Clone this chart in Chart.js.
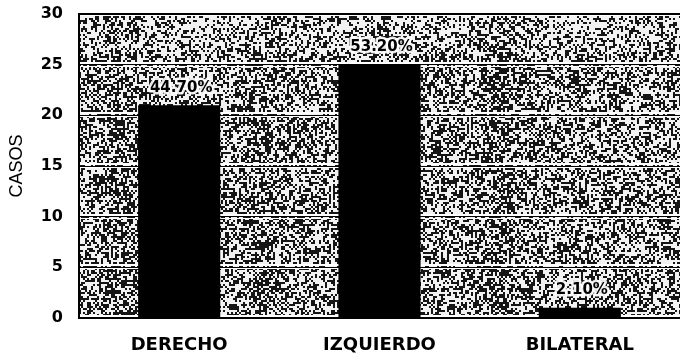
<!DOCTYPE html>
<html>
<head>
<meta charset="utf-8">
<script src="https://cdn.jsdelivr.net/npm/chart.js@4"></script>
<style>
  html, body { margin: 0; padding: 0; background: #fff; }
  #wrap { width: 680px; height: 359px; }
</style>
</head>
<body>
<div id="wrap"><canvas id="grafico"></canvas></div>
<script>
const categorias = ['DERECHO', 'IZQUIERDO', 'BILATERAL'];
const casos = [21, 25, 1];
const porcentajes = ['44.70%', '53.20%', '2.10%'];

const fuente = '"DejaVu Sans", Arial, sans-serif';

// textura gris tipo fotocopia para el fondo del area de trazado
function pintarTextura(ctx, a) {
    const w = Math.ceil(a.right - a.left), h = Math.ceil(a.bottom - a.top);
    const c = document.createElement('canvas');
    c.width = w; c.height = h;
    const g = c.getContext('2d');
    g.fillStyle = '#f2f2f2';
    g.fillRect(0, 0, w, h);
    g.fillStyle = '#151515';
    let s = 98765;
    for (let y = 0; y < h; y += 2) {
        for (let x = 0; x < w; x += 2) {
            s = (s * 1103515245 + 12345) & 0x7fffffff;
            // bandas verticales algo mas oscuras, como en la fotocopia
            const banda = 0.14 * Math.exp(-Math.pow((x - 40) / 18, 2))
                + 0.12 * Math.exp(-Math.pow((x - 180) / 20, 2))
                + 0.14 * Math.exp(-Math.pow((x - 420) / 22, 2));
            const d = 0.44 + banda - (y < 40 ? 0.08 : 0);
            if ((s >> 8) % 1000 < d * 1000) g.fillRect(x, y, 2, 2);
        }
    }
    ctx.drawImage(c, a.left, a.top);
}

const fondo = {
    id: 'fondo',
    beforeDraw(chart) {
        const { ctx, chartArea: a } = chart;
        const y = chart.scales.y;
        ctx.save();
        pintarTextura(ctx, a);
        // franjas blancas junto a cada linea de la cuadricula
        ctx.fillStyle = '#fff';
        y.ticks.forEach(t => {
            const py = Math.round(y.getPixelForValue(t.value));
            ctx.fillRect(a.left, py - 3, a.right - a.left, 2);
            ctx.fillRect(a.left, py + 1, a.right - a.left, 1);
        });
        ctx.restore();
    },
    afterDraw(chart) {
        const { ctx, chartArea: a } = chart;
        ctx.save();
        ctx.strokeStyle = '#000';
        ctx.lineWidth = 2;
        ctx.beginPath();
        ctx.moveTo(a.left, a.top);
        ctx.lineTo(a.right, a.top);
        ctx.stroke();
        ctx.restore();
    }
};

const etiquetas = {
    id: 'etiquetas',
    afterDatasetsDraw(chart) {
        const { ctx } = chart;
        const meta = chart.getDatasetMeta(0);
        ctx.save();
        ctx.font = 'bold 15px ' + fuente;
        ctx.textAlign = 'center';
        ctx.textBaseline = 'bottom';
        ctx.lineJoin = 'round';
        meta.data.forEach((bar, i) => {
            ctx.lineWidth = 5;
            ctx.strokeStyle = 'rgba(255,255,255,0.9)';
            ctx.strokeText(porcentajes[i], bar.x + 2, bar.y - 10);
            ctx.fillStyle = '#000';
            ctx.fillText(porcentajes[i], bar.x + 2, bar.y - 10);
        });
        ctx.restore();
    }
};

const ctx = document.getElementById('grafico').getContext('2d');
new Chart(ctx, {
    type: 'bar',
    data: {
        labels: categorias,
        datasets: [{
            data: casos,
            backgroundColor: '#000',
            borderWidth: 0,
            barPercentage: 0.41,
            categoryPercentage: 1
        }]
    },
    options: {
        responsive: true,
        maintainAspectRatio: false,
        animation: false,
        layout: { padding: { top: 14, right: 0, left: 0, bottom: 0 } },
        plugins: {
            legend: { display: false },
            tooltip: { enabled: false }
        },
        scales: {
            y: {
                min: 0,
                max: 30,
                ticks: {
                    stepSize: 5,
                    color: '#000',
                    padding: 16,
                    font: { family: fuente, size: 16, weight: 'bold' }
                },
                grid: { color: '#000', lineWidth: 1, drawTicks: false },
                border: { color: '#000', width: 2 },
                title: {
                    display: true,
                    text: 'CASOS',
                    color: '#000',
                    padding: { top: 6, bottom: 4 },
                    font: { family: '"Liberation Sans", Arial, sans-serif', size: 18 }
                },
                afterFit(scale) {
                    scale.width = 79;
                    scale.paddingTop = 0;
                    scale.paddingBottom = 0;
                }
            },
            x: {
                ticks: {
                    color: '#000',
                    padding: 17,
                    font: { family: fuente, size: 18, weight: 'bold' }
                },
                grid: { display: false, drawTicks: false },
                border: { color: '#000', width: 2 },
                afterFit(scale) {
                    scale.height = 41;
                    scale.paddingLeft = 0;
                    scale.paddingRight = 0;
                }
            }
        }
    },
    plugins: [fondo, etiquetas]
});
</script>
</body>
</html>
